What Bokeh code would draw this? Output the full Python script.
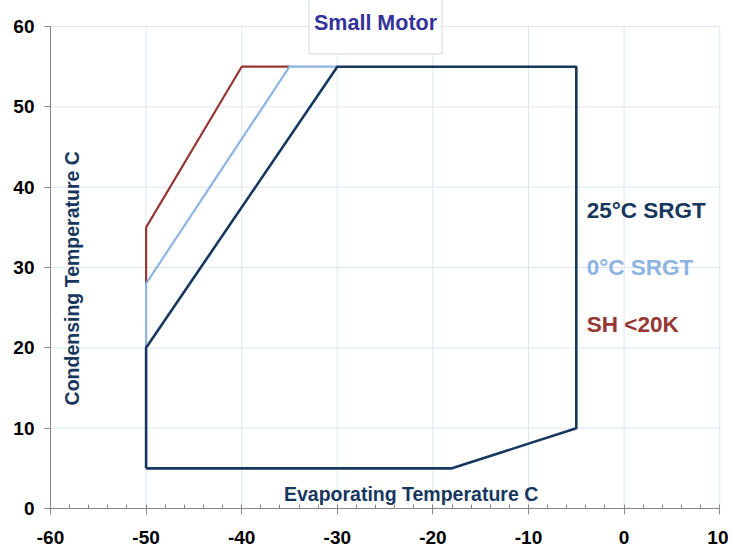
from bokeh.plotting import figure
from bokeh.models import Range1d, FixedTicker, Label
from bokeh.embed import file_html
from bokeh.resources import INLINE

# Data
srgt25_x = [-50, -50, -30, -5, -5, -18, -50]
srgt25_y = [5, 20, 55, 55, 10, 5, 5]
srgt0_x = [-50, -50, -35, -30]
srgt0_y = [20, 28, 55, 55]
sh_x = [-50, -50, -40, -35]
sh_y = [28, 35, 55, 55]

x_ticks = [-60, -50, -40, -30, -20, -10, 0, 10]
y_ticks = [0, 10, 20, 30, 40, 50, 60]
x_minor = [v for v in range(-60, 11, 2)]

series_labels = ["25°C SRGT", "0°C SRGT", "SH <20K"]
NAVY = "#17375e"
LBLUE = "#8db4e2"
RED = "#953735"
GRID = "#dce6f2"
FONT = "Liberation Sans"

xmin, xmax = x_ticks[0], x_ticks[-1]
ymin, ymax = y_ticks[0], y_ticks[-1]

p = figure(width=728, height=549, output_backend="svg", toolbar_location=None,
           x_range=Range1d(xmin, xmax + 0.5), y_range=Range1d(ymin, ymax + 3.24),
           min_border_left=50, min_border_right=4, min_border_top=0, min_border_bottom=41)
p.outline_line_color = None
p.background_fill_color = "white"
p.border_fill_color = "white"
p.grid.visible = False

# grid lines (bounded to the axis extents)
p.segment(x0=x_ticks[1:], y0=[ymin] * (len(x_ticks) - 1), x1=x_ticks[1:], y1=[ymax] * (len(x_ticks) - 1),
          line_color=GRID, line_width=1)
p.segment(x0=[xmin] * (len(y_ticks) - 1), y0=y_ticks[1:], x1=[xmax] * (len(y_ticks) - 1), y1=y_ticks[1:],
          line_color=GRID, line_width=1)

for ax in (p.xaxis[0], p.yaxis[0]):
    ax.axis_line_color = "#868686"
    ax.major_tick_line_color = "#868686"
    ax.minor_tick_line_color = "#868686"
    ax.major_label_text_font = FONT
    ax.major_label_text_font_style = "bold"
    ax.major_label_text_font_size = "19px"
    ax.major_label_text_color = "black"
    ax.major_tick_in = 0
    ax.major_tick_out = 6

p.xaxis.ticker = FixedTicker(ticks=x_ticks, minor_ticks=x_minor)
p.yaxis.ticker = FixedTicker(ticks=y_ticks)
p.xaxis.major_label_overrides = {t: str(t) for t in x_ticks}
p.yaxis.major_label_overrides = {t: str(t) for t in y_ticks}
p.xaxis.bounds = (xmin, xmax)
p.yaxis.bounds = (ymin, ymax)
p.xaxis.minor_tick_in = 4
p.xaxis.minor_tick_out = 0
p.yaxis.minor_tick_line_color = None
p.xaxis.major_label_standoff = 16
p.yaxis.major_label_standoff = 10

p.line(sh_x, sh_y, line_color=RED, line_width=2.2)
p.line(srgt0_x, srgt0_y, line_color=LBLUE, line_width=2.2)
p.line(srgt25_x, srgt25_y, line_color=NAVY, line_width=2.6)

# Legend texts
for lab, col, yy in zip(series_labels, [NAVY, LBLUE, RED], [37.1, 30.0, 22.9]):
    p.add_layout(Label(x=-3.9, y=yy, text=lab, text_color=col, text_font=FONT,
                       text_font_style="bold", text_font_size="22.5px",
                       text_align="left", text_baseline="middle"))

# Axis titles (inside plot)
p.add_layout(Label(x=-22, y=1.75, text="Evaporating Temperature  C", text_color=NAVY,
                   text_font=FONT, text_font_style="bold", text_font_size="19.5px",
                   text_align="center", text_baseline="middle"))
p.add_layout(Label(x=-57.7, y=29.0, text="Condensing Temperature  C", text_color=NAVY,
                   text_font=FONT, text_font_style="bold", text_font_size="19.5px",
                   text_align="center", text_baseline="middle", angle=1.5707963))

# Title
p.add_layout(Label(x=-26.0, y=60.45, text="Small Motor", text_color="#333399",
                   text_font=FONT, text_font_style="bold", text_font_size="21.5px",
                   text_align="center", text_baseline="middle",
                   background_fill_color="white", border_line_color="#d0d8e6",
                   border_line_width=1, padding=(5, 19)))

open("out.html", "w").write(file_html(p, INLINE))
